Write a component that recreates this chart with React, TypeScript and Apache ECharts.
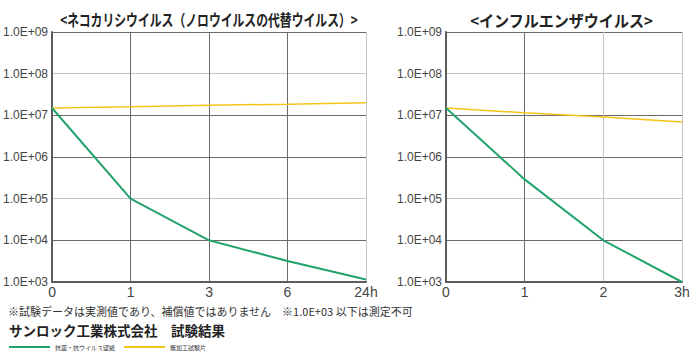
import React, { useEffect, useRef } from "react";
import * as echarts from "echarts";

const leftTitle = "<ネコカリシウイルス（ノロウイルスの代替ウイルス）>";
const rightTitle = "<インフルエンザウイルス>";
const leftCategories = ["0", "1", "3", "6", "24h"];
const rightCategories = ["0", "1", "2", "3h"];
const seriesNames = ["抗菌・抗ウイルス壁紙", "無加工試験片"];
const leftTreated = [1.5e7, 1.0e5, 1.0e4, 3.2e3, 1.15e3];
const leftUntreated = [1.5e7, 1.6e7, 1.75e7, 1.85e7, 2.0e7];
const rightTreated = [1.5e7, 2.9e5, 1.0e4, 1.0e3];
const rightUntreated = [1.5e7, 1.15e7, 9.1e6, 6.9e6];
const yTickLabels = ["1.0E+03", "1.0E+04", "1.0E+05", "1.0E+06", "1.0E+07", "1.0E+08", "1.0E+09"];
const footnote = "※試験データは実測値であり、補償値ではありません　※1.0E+03 以下は測定不可";
const company = "サンロック工業株式会社　試験結果";

const GREEN = "#22a36b";
const YELLOW = "#f5c41b";
const DARK = "#6a6a6a";
const LIGHT = "#c4c4c4";
const AXIS = "#5c5c5c";

export default function App() {
  const ref = useRef<HTMLDivElement>(null);
  useEffect(() => {
    if (!ref.current) return;
    const chart = echarts.init(ref.current, undefined, { renderer: "svg" });
    const yLabel = (v: number) => {
      const e = Math.round(Math.log10(v));
      return yTickLabels[e - 3] ?? "";
    };
    const makeY = (gi: number) => ({
      gridIndex: gi,
      type: "log",
      logBase: 10,
      min: 1e3,
      max: 1e9,
      splitNumber: 6,
      axisLine: { show: true, lineStyle: { color: AXIS, width: 2 } },
      axisTick: { show: false },
      axisLabel: {
        formatter: yLabel,
        fontFamily: '"Liberation Sans Narrow", "Liberation Sans", sans-serif',
        fontSize: 12,
        color: "#444",
        margin: 4,
      },
      splitLine: { show: true, lineStyle: { color: [LIGHT, DARK, DARK], width: 1 } },
    });
    const makeX = (gi: number, data: string[], colors: string[]) => ({
      gridIndex: gi,
      type: "category",
      data,
      boundaryGap: false,
      axisLine: { show: true, lineStyle: { color: AXIS, width: 2 } },
      axisTick: { show: false },
      axisLabel: {
        interval: 0,
        fontFamily: '"Liberation Sans", Arial, sans-serif',
        fontSize: 14,
        color: "#444",
        margin: 3,
      },
      splitLine: { show: true, interval: 0, lineStyle: { color: colors, width: 1 } },
    });
    const line = (name: string, xi: number, data: number[], color: string, width: number, z: number) => ({
      name,
      type: "line",
      xAxisIndex: xi,
      yAxisIndex: xi,
      data,
      symbol: "none",
      showSymbol: false,
      z,
      lineStyle: { color, width },
      itemStyle: { color },
    });
    const option = {
      animation: false,
      grid: [
        { left: 49, top: 32, width: 317, height: 250 },
        { left: 446, top: 32, width: 236, height: 250 },
      ],
      xAxis: [
        makeX(0, leftCategories, [DARK, DARK, DARK, DARK, LIGHT]),
        makeX(1, rightCategories, [DARK, DARK, LIGHT, LIGHT]),
      ],
      yAxis: [makeY(0), makeY(1)],
      legend: {
        data: seriesNames,
        left: 9,
        top: 344,
        padding: 0,
        icon: "rect",
        itemWidth: 41,
        itemHeight: 2,
        itemGap: 9,
        textStyle: { fontSize: 6, color: "#333", fontFamily: '"Noto Sans CJK JP", sans-serif', padding: [0, 0, 0, 0] },
      },
      series: [
        line(seriesNames[1], 0, leftUntreated, YELLOW, 1.5, 2),
        line(seriesNames[0], 0, leftTreated, GREEN, 2, 3),
        line(seriesNames[1], 1, rightUntreated, YELLOW, 1.5, 2),
        line(seriesNames[0], 1, rightTreated, GREEN, 2, 3),
      ],
      graphic: [
        {
          type: "text",
          x: 209,
          y: 19.5,
          scaleX: 0.74,
          style: {
            text: leftTitle,
            fontSize: 16,
            fontWeight: "bold",
            fontFamily: '"Noto Sans CJK JP", sans-serif',
            fill: "#222",
            textAlign: "center",
            textVerticalAlign: "middle",
          },
        },
        {
          type: "text",
          x: 561.5,
          y: 19.5,
          scaleX: 0.94,
          style: {
            text: rightTitle,
            fontSize: 16,
            fontWeight: "bold",
            fontFamily: '"Noto Sans CJK JP", sans-serif',
            fill: "#222",
            textAlign: "center",
            textVerticalAlign: "middle",
          },
        },
        {
          type: "text",
          x: 8,
          y: 311,
          style: {
            text: footnote,
            fontSize: 11,
            fontFamily: '"Noto Sans CJK JP", sans-serif',
            fill: "#333",
            textAlign: "left",
            textVerticalAlign: "middle",
          },
        },
        {
          type: "text",
          x: 9,
          y: 330,
          style: {
            text: company,
            fontSize: 13.5,
            fontWeight: "bold",
            fontFamily: '"Noto Sans CJK JP", sans-serif',
            fill: "#222",
            textAlign: "left",
            textVerticalAlign: "middle",
          },
        },
      ],
    };
    chart.setOption(option as any);
    return () => chart.dispose();
  }, []);
  return (
    <div
      ref={ref}
      style={{ position: "fixed", left: 0, top: 0, width: 700, height: 356, background: "#fff" }}
    />
  );
}
